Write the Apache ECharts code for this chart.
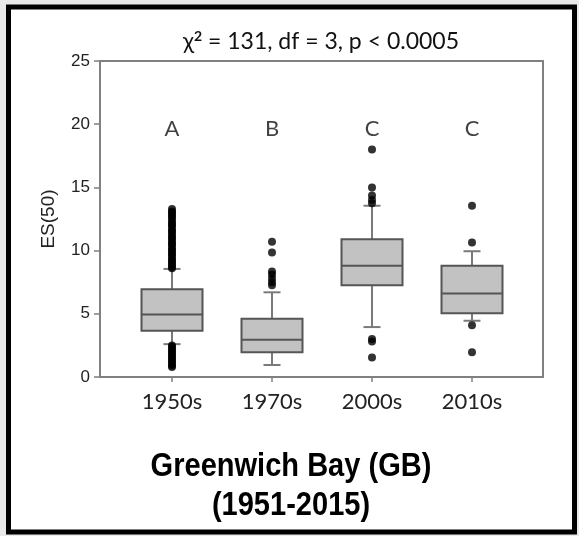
<!DOCTYPE html>
<html>
<head>
<meta charset="utf-8">
<script src="https://cdn.jsdelivr.net/npm/echarts@6/dist/echarts.min.js"></script>
<style>
  html, body { margin: 0; padding: 0; background: #e9e9e9; }
  #chart { width: 579px; height: 536px; }
</style>
</head>
<body>
<div id="chart"></div>
<script>
// Decades along the x axis, placed at positions 1..4
const categories = ['1950s', '1970s', '2000s', '2010s'];
const positions = [1, 2, 3, 4];

// Box summaries: [lower whisker, Q1, median, Q3, upper whisker]
const box1950s = [2.6, 3.65, 4.95, 6.95, 8.55];
const box1970s = [0.95, 1.95, 2.95, 4.6, 6.7];
const box2000s = [3.95, 7.25, 8.8, 10.9, 13.55];
const box2010s = [4.45, 5.05, 6.6, 8.8, 9.95];

// Outlying ES(50) values per decade
const out1950s = [8.6, 8.7, 8.9, 9.0, 9.2, 9.3, 9.5, 9.7, 9.8, 10.0, 10.1, 10.3, 10.5, 10.6,
                  10.8, 11.0, 11.1, 11.3, 11.5, 11.6, 11.8, 12.0, 12.1, 12.3, 12.5, 12.7,
                  12.8, 13.0, 13.1, 13.3,
                  2.5, 2.4, 2.2, 2.1, 1.9, 1.8, 1.6, 1.5, 1.3, 1.2, 1.0, 0.9, 0.8];
const out1970s = [10.7, 9.85, 8.35, 8.1, 7.8, 7.5, 7.25];
const out2000s = [18.0, 15.0, 14.35, 14.0, 13.75, 3.0, 2.8, 1.55];
const out2010s = [13.55, 10.65, 4.1, 1.95];

// Significance group letters above each box
const groupLetters = ['A', 'B', 'C', 'C'];
const letterLevel = 19.6;

// Y axis scale
const yMin = 0, yMax = 25, yStep = 5;

const boxes = [box1950s, box1970s, box2000s, box2010s];
const outliers = [out1950s, out1970s, out2000s, out2010s];

const boxData = boxes.map((b, i) => [positions[i]].concat(b));
const outlierData = [];
outliers.forEach((arr, i) => arr.forEach(v => outlierData.push([positions[i], v])));
const letterData = groupLetters.map((t, i) => ({ value: [positions[i], letterLevel], name: t }));

const chart = echarts.init(document.getElementById('chart'), null, { renderer: 'canvas' });

const BOX_HALF = 0.305;
const CAP_HALF = 0.085;
const SANS = 'Lato, "Open Sans", sans-serif';
const ARIAL = '"Liberation Sans", Arial, sans-serif';

function renderBox(params, api) {
  const x = api.value(0);
  const lo = api.coord([x, api.value(1)]);
  const q1 = api.coord([x, api.value(2)]);
  const md = api.coord([x, api.value(3)]);
  const q3 = api.coord([x, api.value(4)]);
  const hi = api.coord([x, api.value(5)]);
  const left = api.coord([x - BOX_HALF, 0])[0];
  const right = api.coord([x + BOX_HALF, 0])[0];
  const capL = api.coord([x - CAP_HALF, 0])[0];
  const capR = api.coord([x + CAP_HALF, 0])[0];
  const whisker = { stroke: '#7a7a7a', lineWidth: 2 };
  return {
    type: 'group',
    children: [
      { type: 'line', shape: { x1: lo[0], y1: lo[1], x2: q1[0], y2: q1[1] }, style: whisker },
      { type: 'line', shape: { x1: q3[0], y1: q3[1], x2: hi[0], y2: hi[1] }, style: whisker },
      { type: 'line', shape: { x1: capL, y1: lo[1], x2: capR, y2: lo[1] }, style: whisker },
      { type: 'line', shape: { x1: capL, y1: hi[1], x2: capR, y2: hi[1] }, style: whisker },
      { type: 'rect', shape: { x: left, y: q3[1], width: right - left, height: q1[1] - q3[1] },
        style: { fill: '#c2c2c2', stroke: '#555555', lineWidth: 2 } },
      { type: 'line', shape: { x1: left, y1: md[1], x2: right, y2: md[1] },
        style: { stroke: '#555555', lineWidth: 2 } }
    ]
  };
}

const titleFont = 'bold 33px "Liberation Sans", Arial, sans-serif';

const option = {
  backgroundColor: '#e9e9e9',
  animation: false,
  graphic: [
    { type: 'rect', z: -10, silent: true,
      shape: { x: 8.5, y: 7, width: 566, height: 525 },
      style: { fill: '#ffffff', stroke: '#000000', lineWidth: 5 } },
    { type: 'text', x: 291, y: 467, scaleX: 0.88, originX: 0,
      style: { text: 'Greenwich Bay (GB)', fill: '#000000', font: titleFont,
               textAlign: 'center', textVerticalAlign: 'middle' } },
    { type: 'text', x: 291, y: 506, scaleX: 0.88, originX: 0,
      style: { text: '(1951-2015)', fill: '#000000', font: titleFont,
               textAlign: 'center', textVerticalAlign: 'middle' } }
  ],
  title: {
    text: '{t|χ}{s|2}{t| = 131, df = 3, p < 0.0005}',
    left: 316, textAlign: 'center', top: 24,
    textStyle: {
      rich: {
        t: { fontFamily: SANS, fontSize: 23, color: '#111', fontWeight: 'normal' },
        s: { fontFamily: SANS, fontSize: 14, color: '#111', verticalAlign: 'top', padding: [0, 0, 12, 0] }
      }
    }
  },
  grid: {
    left: 100, top: 61, width: 443, height: 316,
    show: true, borderColor: '#808080', borderWidth: 2, backgroundColor: 'transparent'
  },
  xAxis: {
    type: 'value', min: 0.28, max: 4.71,
    splitLine: { show: false },
    axisLine: { show: true, onZero: false, lineStyle: { color: '#808080', width: 2 } },
    axisTick: { show: true, customValues: positions, length: 5, lineStyle: { color: '#808080', width: 1.5 } },
    axisLabel: {
      customValues: positions, margin: 14,
      formatter: v => categories[Math.round(v) - 1] || '',
      fontFamily: SANS, fontSize: 22, color: '#222'
    }
  },
  yAxis: {
    type: 'value', min: yMin, max: yMax, interval: yStep,
    name: 'ES(50)', nameLocation: 'middle', nameGap: 42, nameRotate: 90,
    nameTextStyle: { fontFamily: ARIAL, fontSize: 19, color: '#222' },
    splitLine: { show: false },
    axisLine: { show: true, lineStyle: { color: '#808080', width: 2 } },
    axisTick: { show: true, length: 6, lineStyle: { color: '#808080', width: 1.5 } },
    axisLabel: { margin: 10, fontFamily: ARIAL, fontSize: 17, color: '#222' }
  },
  series: [
    { type: 'custom', name: 'box', data: boxData, renderItem: renderBox,
      encode: { x: 0, y: [1, 2, 3, 4, 5] }, z: 2 },
    { type: 'scatter', name: 'outliers', data: outlierData, symbol: 'circle', symbolSize: 8,
      itemStyle: { color: '#000000' }, z: 3 },
    { type: 'scatter', name: 'groups', data: letterData, symbolSize: 0,
      label: { show: true, position: 'inside', formatter: p => p.name,
               fontFamily: SANS, fontSize: 22, color: '#111' }, z: 4 }
  ]
};

chart.setOption(option);
</script>
</body>
</html>
